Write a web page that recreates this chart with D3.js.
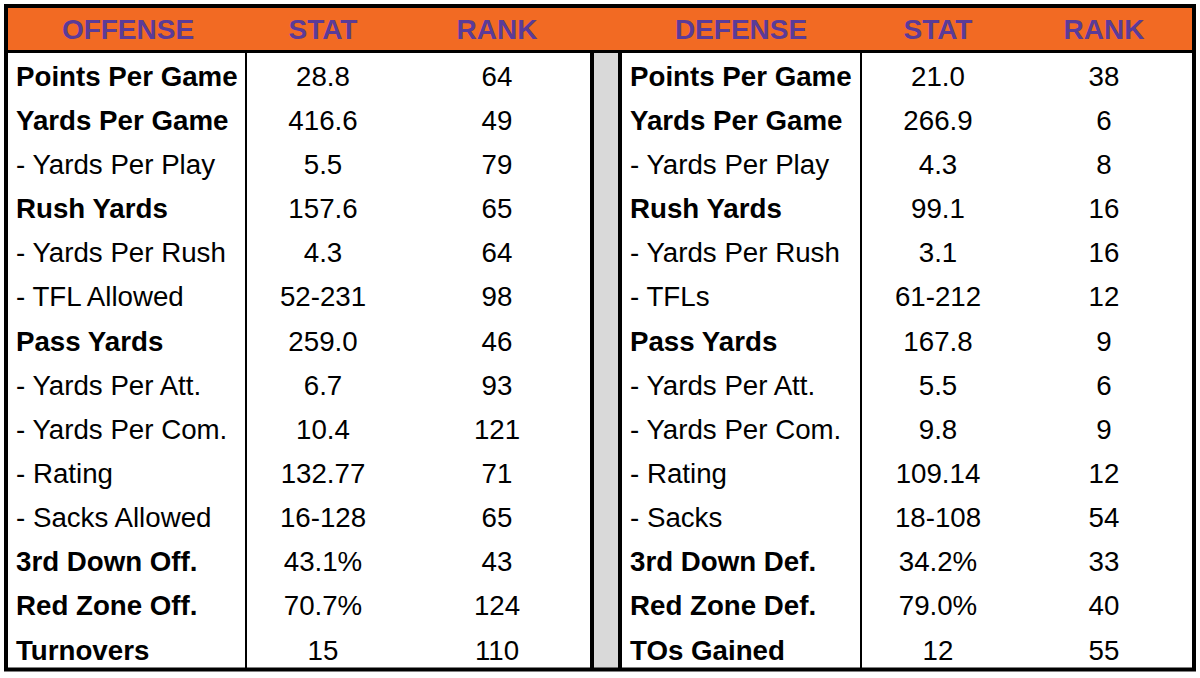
<!DOCTYPE html>
<html>
<head>
<meta charset="utf-8">
<script src="https://cdn.jsdelivr.net/npm/d3@7"></script>
<style>
  body { margin: 0; background: #fff; }
  text { font-family: "Liberation Sans", Arial, sans-serif; }
</style>
</head>
<body>
<svg width="1200" height="678"></svg>
<script>
var headers = ["OFFENSE", "STAT", "RANK", "DEFENSE", "STAT", "RANK"];

var offLabels = ["Points Per Game", "Yards Per Game", "- Yards Per Play", "Rush Yards",
  "- Yards Per Rush", "- TFL Allowed", "Pass Yards", "- Yards Per Att.", "- Yards Per Com.",
  "- Rating", "- Sacks Allowed", "3rd Down Off.", "Red Zone Off.", "Turnovers"];
var offStats = ["28.8", "416.6", "5.5", "157.6", "4.3", "52-231", "259.0", "6.7", "10.4",
  "132.77", "16-128", "43.1%", "70.7%", "15"];
var offRanks = [64, 49, 79, 65, 64, 98, 46, 93, 121, 71, 65, 43, 124, 110];

var defLabels = ["Points Per Game", "Yards Per Game", "- Yards Per Play", "Rush Yards",
  "- Yards Per Rush", "- TFLs", "Pass Yards", "- Yards Per Att.", "- Yards Per Com.",
  "- Rating", "- Sacks", "3rd Down Def.", "Red Zone Def.", "TOs Gained"];
var defStats = ["21.0", "266.9", "4.3", "99.1", "3.1", "61-212", "167.8", "5.5", "9.8",
  "109.14", "18-108", "34.2%", "79.0%", "12"];
var defRanks = [38, 6, 8, 16, 16, 12, 9, 6, 9, 12, 54, 33, 40, 55];

var svg = d3.select("svg");
var orange = "#f26a23", purple = "#5b3b98";

var rowIdx = d3.range(offLabels.length);
var y = d3.scaleBand().domain(rowIdx).range([54, 672]);

var tableTop = 6, tableBottom = 669.5, headBottom = 51.5;

// header band
svg.append("rect")
    .attr("x", 6).attr("y", tableTop)
    .attr("width", 1188).attr("height", headBottom - tableTop)
    .attr("fill", orange);

// gray spacer column
svg.append("rect")
    .attr("x", 592).attr("y", headBottom)
    .attr("width", 28).attr("height", tableBottom - headBottom)
    .attr("fill", "#d9d9d9");

// vertical lines
[[246, 2], [861, 2], [592, 4], [620, 4]].forEach(function(v) {
  svg.append("line")
      .attr("x1", v[0]).attr("x2", v[0])
      .attr("y1", headBottom).attr("y2", tableBottom)
      .attr("stroke", "#000").attr("stroke-width", v[1]);
});

svg.append("line")
    .attr("x1", 6).attr("x2", 1194)
    .attr("y1", headBottom).attr("y2", headBottom)
    .attr("stroke", "#000").attr("stroke-width", 3);

svg.append("rect")
    .attr("x", 6).attr("y", tableTop)
    .attr("width", 1188).attr("height", tableBottom - tableTop)
    .attr("fill", "none")
    .attr("stroke", "#000").attr("stroke-width", 4);

// header text
var headX = [128, 323, 497, 741, 938, 1104];
svg.selectAll("text.head")
    .data(headers)
  .enter().append("text")
    .attr("class", "head")
    .attr("x", function(d, i) { return headX[i]; })
    .attr("y", 29)
    .attr("dy", "0.35em")
    .attr("text-anchor", "middle")
    .attr("fill", purple)
    .style("font-size", "28px")
    .style("font-weight", "bold")
    .text(function(d) { return d; });

function isBold(label) { return label.charAt(0) !== "-"; }

function drawSide(labels, stats, ranks, xLabel, xStat, xRank) {
  var g = svg.append("g").style("font-size", "27.7px");
  g.selectAll("text.lab")
      .data(labels)
    .enter().append("text")
      .attr("x", xLabel)
      .attr("y", function(d, i) { return y(i) + y.bandwidth() / 2; })
      .attr("dy", "0.35em")
      .style("font-weight", function(d) { return isBold(d) ? "bold" : "normal"; })
      .text(function(d) { return d; });
  g.selectAll("text.stat")
      .data(stats)
    .enter().append("text")
      .attr("x", xStat)
      .attr("y", function(d, i) { return y(i) + y.bandwidth() / 2; })
      .attr("dy", "0.35em")
      .attr("text-anchor", "middle")
      .text(function(d) { return d; });
  g.selectAll("text.rank")
      .data(ranks)
    .enter().append("text")
      .attr("x", xRank)
      .attr("y", function(d, i) { return y(i) + y.bandwidth() / 2; })
      .attr("dy", "0.35em")
      .attr("text-anchor", "middle")
      .text(function(d) { return d; });
}

drawSide(offLabels, offStats, offRanks, 16, 323, 497);
drawSide(defLabels, defStats, defRanks, 630, 938, 1104);
</script>
</body>
</html>
